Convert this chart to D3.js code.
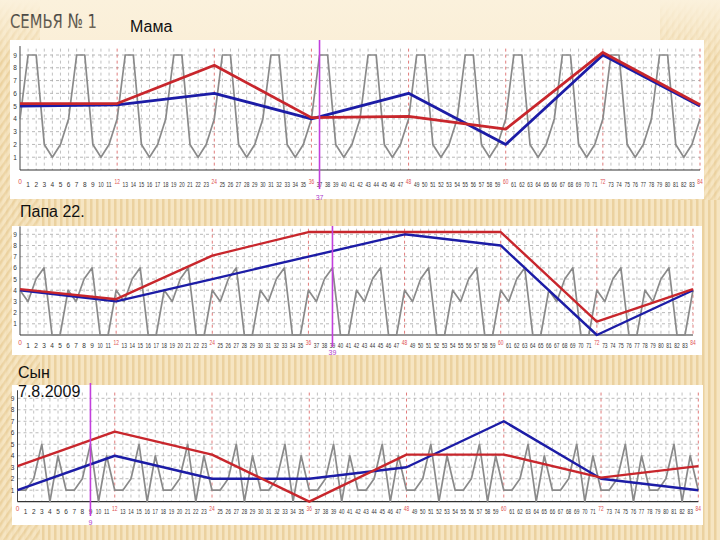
<!DOCTYPE html>
<html><head><meta charset="utf-8">
<script src="https://cdn.jsdelivr.net/npm/d3@7"></script>
<style>body{margin:0;background:#f6e8ca}svg{display:block}</style>
</head><body>
<script>
// ---------- data ----------
const xLabels = [0,1,2,3,4,5,6,7,8,9,10,11,12,13,14,15,16,17,18,19,20,21,22,23,24,25,26,27,28,29,30,31,32,33,34,35,36,37,38,39,40,41,42,43,44,45,46,47,48,49,50,51,52,53,54,55,56,57,58,59,60,61,62,63,64,65,66,67,68,69,70,71,72,73,74,75,76,77,78,79,80,81,82,83,84];
const yLabels = [1,2,3,4,5,6,7,8,9];
const keyX = [0,12,24,36,48,60,72,84];

const mamaGray = [4,9,9,2,1,2, 4,9,9,2,1,2, 4,9,9,2,1,2, 4,9,9,2,1,2, 4,9,9,2,1,2, 4,9,9,2,1,2, 4,9,9,2,1,2,
                  4,9,9,2,1,2, 4,9,9,2,1,2, 4,9,9,2,1,2, 4,9,9,2,1,2, 4,9,9,2,1,2, 4,9,9,2,1,2, 4,9,9,2,1,2, 4];
const mamaRed  = [5.2,5.2,8.2,4.1,4.2,3.2,9.2,5.1];
const mamaBlue = [5.0,5.1,6.0,4.0,6.0,2.0,9.0,5.0];
const mamaMark = 37;

const papaGray = [4,3,5,6,0,0, 4,3,5,6,0,0, 4,3,5,6,0,0, 4,3,5,6,0,0, 4,3,5,6,0,0, 4,3,5,6,0,0, 4,3,5,6,0,0,
                  4,3,5,6,0,0, 4,3,5,6,0,0, 4,3,5,6,0,0, 4,3,5,6,0,0, 4,3,5,6,0,0, 4,3,5,6,0,0, 4,3,5,6,0,0, 4];
const papaRed  = [4.1,3.2,7.1,9.2,9.2,9.2,1.2,4.1];
const papaBlue = [4.0,3.0,5.0,7.0,9.0,8.0,0.0,4.0];
const papaMark = 39;

const synGray = [1,1,2,5,0,4, 1,1,2,5,0,4, 1,1,2,5,0,4, 1,1,2,5,0,4, 1,1,2,5,0,4, 1,1,2,5,0,4, 1,1,2,5,0,4,
                 1,1,2,5,0,4, 1,1,2,5,0,4, 1,1,2,5,0,4, 1,1,2,5,0,4, 1,1,2,5,0,4, 1,1,2,5,0,4, 1,1,2,5,0,4, 1];
const synRed  = [3.1,6.1,4.1,0.0,4.1,4.1,2.1,3.1];
const synBlue = [1.0,4.0,2.0,2.0,3.0,7.0,2.0,1.0];
const synMark = 9;

// ---------- drawing ----------
const W = 720, H = 540;
const svg = d3.select("body").append("svg").attr("width", W).attr("height", H);
const defs = svg.append("defs");

// background
const pat = defs.append("pattern").attr("id","stripes").attr("width",6).attr("height",6)
  .attr("patternUnits","userSpaceOnUse");
pat.append("rect").attr("width",6).attr("height",6).attr("fill","#f6e5c2");
pat.append("rect").attr("x",0).attr("width",2.5).attr("height",6).attr("fill","#ebd19f");
const dpat = defs.append("pattern").attr("id","dstripes").attr("width",6).attr("height",6)
  .attr("patternUnits","userSpaceOnUse").attr("patternTransform","rotate(35)");
dpat.append("rect").attr("width",6).attr("height",6).attr("fill","#f6e5c2");
dpat.append("rect").attr("width",2.5).attr("height",6).attr("fill","#ebd19f");
const topG = defs.append("linearGradient").attr("id","topfade").attr("x1",0).attr("y1",0).attr("x2",0).attr("y2",1);
topG.append("stop").attr("offset","0%").attr("stop-color","#fbf1dc").attr("stop-opacity",1);
topG.append("stop").attr("offset","100%").attr("stop-color","#fbf1dc").attr("stop-opacity",0);

svg.append("rect").attr("width",W).attr("height",H).attr("fill","url(#stripes)");
svg.append("rect").attr("x",0).attr("y",0).attr("width",40).attr("height",H).attr("fill","url(#dstripes)").attr("opacity",0.8);
svg.append("rect").attr("x",660).attr("y",0).attr("width",60).attr("height",200).attr("fill","url(#dstripes)").attr("opacity",0.7);
svg.append("rect").attr("x",40).attr("y",0).attr("width",620).attr("height",40).attr("fill","#faeed6");
svg.append("rect").attr("x",0).attr("y",0).attr("width",W).attr("height",60).attr("fill","url(#topfade)");

// title
const tg = defs.append("linearGradient").attr("id","titleg").attr("x1",0).attr("y1",0).attr("x2",0).attr("y2",1);
tg.append("stop").attr("offset","0%").attr("stop-color","#3e3e3e");
tg.append("stop").attr("offset","100%").attr("stop-color","#7a705f");
svg.append("text").attr("x",10).attr("y",28).attr("font-family","'DejaVu Sans Condensed', 'Liberation Sans Narrow', sans-serif")
  .attr("font-size",20).attr("fill","url(#titleg)").attr("textLength",87).attr("lengthAdjust","spacingAndGlyphs")
  .text("СЕМЬЯ № 1");

const labelFont = "Liberation Sans, Arial, sans-serif";
svg.append("text").attr("x",130).attr("y",32).attr("font-family",labelFont).attr("font-size",16).attr("fill","#111").text("Мама");

const panels = [
  {gray: mamaGray, red: mamaRed, blue: mamaBlue, mark: mamaMark,
   box: [10,40,694,159], xr: [20,700], yr: [170,55], labY: 187, markTop: 40, markBot: 189, markLabY: 200, lw: 2.8},
  {gray: papaGray, red: papaRed, blue: papaBlue, mark: papaMark,
   box: [12,226,690,129], xr: [20,693], yr: [335,234.3], labY: 348, markTop: 226, markBot: 347, markLabY: 355, lw: 2.4},
  {gray: synGray, red: synRed, blue: synBlue, mark: synMark,
   box: [12,385,691,140], xr: [17.5,698.3], yr: [501.7,398.3], labY: 514, markTop: 383, markBot: 516, markLabY: 525, lw: 2.4}
];

panels.forEach(p => {
  const g = svg.append("g");
  g.append("rect").attr("x",p.box[0]).attr("y",p.box[1]).attr("width",p.box[2]).attr("height",p.box[3]).attr("fill","#ffffff");
  const x = d3.scaleLinear().domain([0,84]).range(p.xr);
  const y = d3.scaleLinear().domain([0,9]).range(p.yr);
  const top = y(9.5);

  g.selectAll(".hg").data(yLabels).join("line")
    .attr("x1",x(0)).attr("x2",x(84)).attr("y1",d=>y(d)).attr("y2",d=>y(d))
    .attr("stroke","#9c9c9c").attr("stroke-width",0.7).attr("stroke-dasharray","3,3");
  g.selectAll(".vg").data(xLabels.filter(d=>d>0 && d%12!==0)).join("line")
    .attr("x1",d=>x(d)).attr("x2",d=>x(d)).attr("y1",top).attr("y2",y(0))
    .attr("stroke","#a8a8a8").attr("stroke-width",0.7).attr("stroke-dasharray","3,3");
  g.selectAll(".vr").data(keyX.filter(d=>d>0)).join("line")
    .attr("x1",d=>x(d)).attr("x2",d=>x(d)).attr("y1",top).attr("y2",y(0))
    .attr("stroke","#d85a5a").attr("stroke-width",0.8).attr("stroke-dasharray","3,3");

  g.append("line").attr("x1",x(0)).attr("x2",x(0)).attr("y1",y(9.7)).attr("y2",y(0)).attr("stroke","#444").attr("stroke-width",1);
  g.append("line").attr("x1",x(0)).attr("x2",x(84)).attr("y1",y(0)).attr("y2",y(0)).attr("stroke","#333").attr("stroke-width",1.2);

  g.selectAll(".yl").data(yLabels).join("text")
    .attr("x",x(0)-5).attr("y",d=>y(d)+2.5).attr("text-anchor","middle")
    .attr("font-family","Liberation Sans, Arial, sans-serif").attr("font-size",6.5).attr("fill","#333").text(d=>d);

  g.selectAll(".xl").data(xLabels).join("text")
    .attr("x",d=>x(d)).attr("y",d=> d%12===0 ? p.labY-3 : p.labY).attr("text-anchor","middle")
    .attr("font-family","Liberation Sans, Arial, sans-serif").attr("font-size",6.5)
    .attr("fill",d=>d%12===0?"#e05050":"#333")
    .each(function(d){ if (d >= 10) d3.select(this).attr("textLength",5.4).attr("lengthAdjust","spacingAndGlyphs"); })
    .text(d=>d);

  const line = d3.line().x((d,i)=>x(xLabels[i])).y(d=>y(d));
  g.append("path").datum(p.gray).attr("d",line).attr("fill","none")
    .attr("stroke","#8a8a8a").attr("stroke-width",1.7).attr("stroke-linejoin","round");

  const kline = d3.line().x((d,i)=>x(keyX[i])).y(d=>y(d));
  g.append("path").datum(p.blue).attr("d",kline).attr("fill","none")
    .attr("stroke","#1c1ca6").attr("stroke-width",p.lw).attr("stroke-linejoin","round");
  g.append("path").datum(p.red).attr("d",kline).attr("fill","none")
    .attr("stroke","#c8262c").attr("stroke-width",p.lw).attr("stroke-linejoin","round");

  g.append("line").attr("x1",x(p.mark)).attr("x2",x(p.mark)).attr("y1",p.markTop).attr("y2",p.markBot)
    .attr("stroke","#c23fdc").attr("stroke-width",1.6);
  g.append("text").attr("x",x(p.mark)).attr("y",p.markLabY).attr("text-anchor","middle")
    .attr("font-family","Liberation Sans, Arial, sans-serif").attr("font-size",7).attr("fill","#b03ccc").text(p.mark);
});

svg.append("text").attr("x",20).attr("y",217).attr("font-family",labelFont).attr("font-size",16).attr("fill","#111").text("Папа 22.");
svg.append("text").attr("x",18).attr("y",378).attr("font-family",labelFont).attr("font-size",16).attr("fill","#111").text("Сын");
svg.append("text").attr("x",18).attr("y",397).attr("font-family",labelFont).attr("font-size",16).attr("fill","#111").text("7.8.2009");
</script>
</body></html>
